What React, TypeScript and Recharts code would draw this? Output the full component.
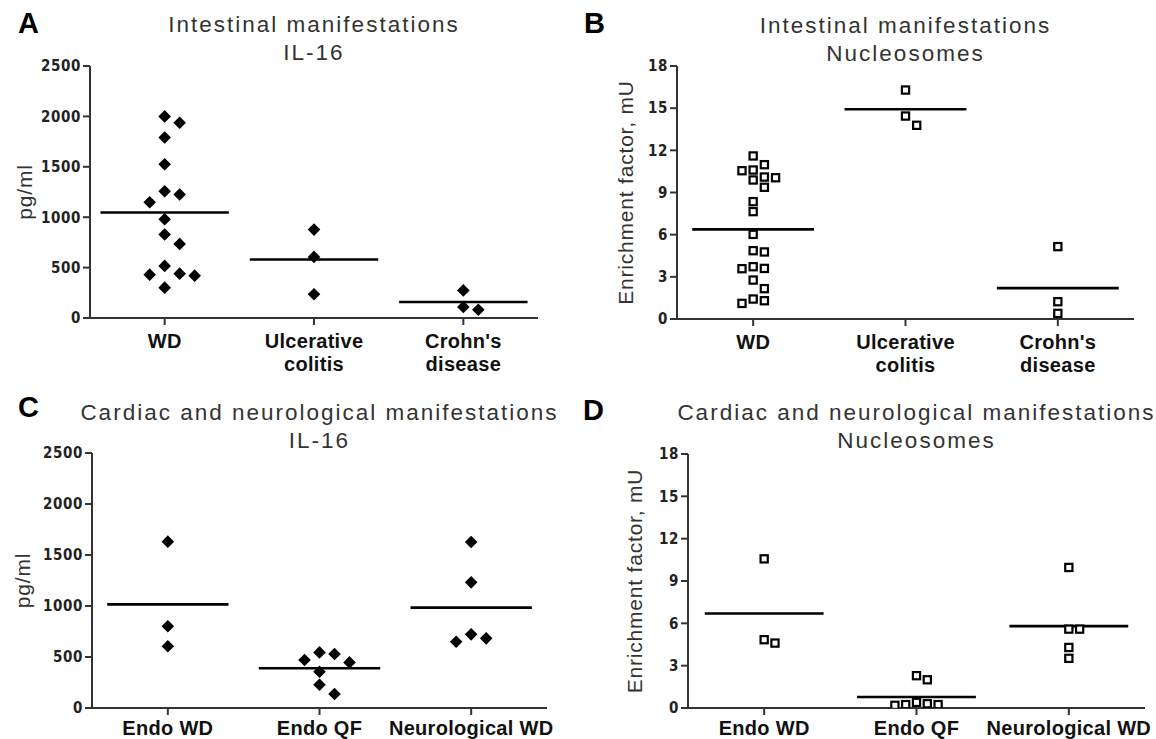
import React from 'react';
import { ScatterChart, Scatter, XAxis, YAxis } from 'recharts';

// ---------- Data ----------
const intestinalGroups = ['WD', 'Ulcerative\ncolitis', "Crohn's\ndisease"];
const cardiacGroups = ['Endo WD', 'Endo QF', 'Neurological WD'];

const il16Ticks = [0, 500, 1000, 1500, 2000, 2500];
const nucTicks = [0, 3, 6, 9, 12, 15, 18];

// Panel A: IL-16, intestinal (pg/ml)
const il16IntWD = [2000, 1937, 1791, 1526, 1258, 1225, 1149, 980, 828, 735, 517, 430, 420, 440, 301];
const il16IntUC = [877, 606, 235];
const il16IntCD = [274, 109, 82];
const il16IntMeans = [1046, 580, 159];

// Panel B: Nucleosomes, intestinal (mU)
const nucIntWD = [11.6, 10.98, 10.6, 10.55, 10.1, 10.05, 9.89, 9.37, 8.35, 7.64, 6.02, 4.86, 4.77, 3.72, 3.6, 3.58, 2.77, 2.16, 1.42, 1.3, 1.11];
const nucIntUC = [16.29, 14.44, 13.78];
const nucIntCD = [5.15, 1.23, 0.4];
const nucIntMeans = [6.38, 14.92, 2.2];

// Panel C: IL-16, cardiac & neurological (pg/ml)
const il16CarEndoWD = [1631, 801, 605];
const il16CarEndoQF = [545, 529, 471, 447, 356, 228, 137];
const il16CarNeuro = [1627, 1232, 722, 683, 650];
const il16CarMeans = [1016, 390, 984];

// Panel D: Nucleosomes, cardiac & neurological (mU)
const nucCarEndoWD = [10.57, 4.84, 4.6];
const nucCarEndoQF = [2.29, 2.0, 0.4, 0.3, 0.24, 0.24, 0.19];
const nucCarNeuro = [9.96, 5.59, 5.59, 4.29, 3.52];
const nucCarMeans = [6.7, 0.78, 5.8];

// ---------- Styling ----------
const AXIS = '#333333';
const TEXT = '#333333';
const SANS = "'Liberation Sans', Arial, sans-serif";
const NARROW = "'Liberation Sans Narrow', 'Arial Narrow', 'DejaVu Sans Condensed', sans-serif";
const Y_W = 60;
const X_H = 30;

// beeswarm offsets (pixels) derived from the values
function beeswarm(vals: number[], ppu: number, size: number, step: number): number[] {
  const order = vals.map((_, i) => i).sort((a, b) => vals[b] - vals[a]);
  const placed: { dx: number; py: number }[] = [];
  const out = new Array(vals.length).fill(0);
  for (const i of order) {
    const py = vals[i] * ppu;
    for (let k = 0; k < 30; k++) {
      const slot = k === 0 ? 0 : k % 2 === 1 ? (k + 1) / 2 : -k / 2;
      const dx = slot * step;
      const hit = placed.some((q) => Math.abs(q.dx - dx) < step * 0.9 && Math.abs(q.py - py) < size);
      if (!hit) {
        placed.push({ dx, py });
        out[i] = dx;
        break;
      }
    }
  }
  return out;
}

type Box = { left: number; top: number; width: number; height: number };
type Plot = { l: number; t: number; r: number; b: number };

type PanelProps = {
  box: Box;
  plot: Plot;
  groups: string[];
  values: number[][];
  means: number[];
  yMax: number;
  yTicks: number[];
  marker: 'diamond' | 'square';
  step: number;
  symbol: number;
  lineFrac: number;
  labelDy: number;
};

function Panel(p: PanelProps) {
  const plotW = p.plot.r - p.plot.l;
  const plotH = p.plot.b - p.plot.t;
  const band = plotW / p.groups.length;
  const ppu = plotH / p.yMax;
  const points = p.values.flatMap((vals, gi) => {
    const offs = beeswarm(vals, ppu, p.symbol, p.step);
    return vals.map((v, i) => ({ x: gi + 0.5, y: v, dx: offs[i] }));
  });
  const meanData = p.means.map((m, gi) => ({ x: gi + 0.5, y: m }));
  const margin = {
    top: p.plot.t - p.box.top,
    left: p.plot.l - p.box.left - Y_W,
    right: p.box.left + p.box.width - p.plot.r,
    bottom: p.box.top + p.box.height - p.plot.b - X_H,
  };
  const lineW = band * p.lineFrac;

  const markerShape = (props: any) => {
    const { cx, cy, payload } = props;
    if (cx == null || cy == null) return <g />;
    const x = cx + (payload.dx || 0);
    if (p.marker === 'diamond') {
      const r = 6.3;
      return <path d={`M${x},${cy - r}L${x + r},${cy}L${x},${cy + r}L${x - r},${cy}Z`} fill="#000" />;
    }
    return <rect x={x - 3.6} y={cy - 3.6} width={7.2} height={7.2} fill="#fff" stroke="#000" strokeWidth={2.2} />;
  };

  const meanShape = (props: any) => {
    const { cx, cy } = props;
    if (cx == null || cy == null) return <g />;
    return <line x1={cx - lineW / 2} x2={cx + lineW / 2} y1={cy} y2={cy} stroke="#000" strokeWidth={2.6} />;
  };

  const catTick = (props: any) => {
    const { x, y, payload } = props;
    const label = p.groups[Math.floor(payload.value)] || '';
    const lines = label.split('\n');
    return (
      <text x={x} y={y} textAnchor="middle" fill="#111" fontSize={20} fontWeight="bold" fontFamily={SANS} letterSpacing={0.3}>
        {lines.map((ln, i) => (
          <tspan key={i} x={x} dy={i === 0 ? p.labelDy : 23}>
            {ln}
          </tspan>
        ))}
      </text>
    );
  };

  return (
    <div style={{ position: 'absolute', left: p.box.left, top: p.box.top }}>
      <ScatterChart width={p.box.width} height={p.box.height} margin={margin}>
        <XAxis
          type="number"
          dataKey="x"
          domain={[0, p.groups.length]}
          ticks={p.groups.map((_, i) => i + 0.5)}
          interval={0}
          height={X_H}
          tickSize={7}
          axisLine={{ stroke: AXIS, strokeWidth: 2 }}
          tickLine={{ stroke: AXIS, strokeWidth: 2 }}
          tick={catTick}
          allowDataOverflow
        />
        <YAxis
          type="number"
          dataKey="y"
          domain={[0, p.yMax]}
          ticks={p.yTicks}
          interval={0}
          width={Y_W}
          tickSize={7}
          axisLine={{ stroke: AXIS, strokeWidth: 2 }}
          tickLine={{ stroke: AXIS, strokeWidth: 2 }}
          tick={{ fill: '#222', fontSize: 15, fontWeight: 700, fontFamily: NARROW, letterSpacing: 0.6 }}
          allowDataOverflow
        />
        <Scatter data={meanData} shape={meanShape} isAnimationActive={false} />
        <Scatter data={points} shape={markerShape} isAnimationActive={false} />
      </ScatterChart>
    </div>
  );
}

const plotA: Plot = { l: 90, t: 66, r: 538, b: 318 };
const plotB: Plot = { l: 677, t: 66, r: 1134, b: 319 };
const plotC: Plot = { l: 92, t: 453, r: 547, b: 708 };
const plotD: Plot = { l: 688, t: 454, r: 1145, b: 708 };

function Titles() {
  const items = [
    { letter: 'A', lx: 18, ly: 33, plot: plotA, t1: 'Intestinal manifestations', t2: 'IL-16', y1: 32, ylab: 'pg/ml', yx: 24 },
    { letter: 'B', lx: 584, ly: 33, plot: plotB, t1: 'Intestinal manifestations', t2: 'Nucleosomes', y1: 33, ylab: 'Enrichment factor, mU', yx: 625 },
    { letter: 'C', lx: 18, ly: 417, plot: plotC, t1: 'Cardiac and neurological manifestations', t2: 'IL-16', y1: 420, ylab: 'pg/ml', yx: 22 },
    { letter: 'D', lx: 583, ly: 420, plot: plotD, t1: 'Cardiac and neurological manifestations', t2: 'Nucleosomes', y1: 420, ylab: 'Enrichment factor, mU', yx: 634 },
  ];
  return (
    <svg width={1156} height={739} style={{ position: 'absolute', left: 0, top: 0, pointerEvents: 'none' }}>
      {items.map((it) => {
        const cx = (it.plot.l + it.plot.r) / 2;
        const cy = (it.plot.t + it.plot.b) / 2;
        return (
          <g key={it.letter}>
            <text x={it.lx} y={it.ly} fontSize={29} fontWeight="bold" fontFamily={SANS} fill="#000">
              {it.letter}
            </text>
            <text x={cx} y={it.y1} textAnchor="middle" fontSize={22.5} fontFamily={SANS} fill={TEXT} letterSpacing={2}>
              {it.t1}
            </text>
            <text x={cx} y={it.y1 + 28} textAnchor="middle" fontSize={22.5} fontFamily={SANS} fill={TEXT} letterSpacing={2}>
              {it.t2}
            </text>
            <text
              transform={`translate(${it.yx},${cy}) rotate(-90)`}
              textAnchor="middle"
              dominantBaseline="central"
              fontSize={21}
              fontFamily={SANS}
              fill={TEXT}
              letterSpacing={0.8}
            >
              {it.ylab}
            </text>
          </g>
        );
      })}
    </svg>
  );
}

export default function App() {
  return (
    <div style={{ position: 'absolute', left: 0, top: 0, width: 1156, height: 739, background: '#fff', overflow: 'hidden' }}>
      <Panel
        box={{ left: 0, top: 0, width: 578, height: 400 }}
        plot={plotA}
        groups={intestinalGroups}
        values={[il16IntWD, il16IntUC, il16IntCD]}
        means={il16IntMeans}
        yMax={2500}
        yTicks={il16Ticks}
        marker="diamond"
        step={15}
        symbol={12}
        lineFrac={0.86}
        labelDy={21}
      />
      <Panel
        box={{ left: 578, top: 0, width: 578, height: 400 }}
        plot={plotB}
        groups={intestinalGroups}
        values={[nucIntWD, nucIntUC, nucIntCD]}
        means={nucIntMeans}
        yMax={18}
        yTicks={nucTicks}
        marker="square"
        step={11.2}
        symbol={9.5}
        lineFrac={0.8}
        labelDy={21}
      />
      <Panel
        box={{ left: 0, top: 370, width: 578, height: 369 }}
        plot={plotC}
        groups={cardiacGroups}
        values={[il16CarEndoWD, il16CarEndoQF, il16CarNeuro]}
        means={il16CarMeans}
        yMax={2500}
        yTicks={il16Ticks}
        marker="diamond"
        step={15}
        symbol={11}
        lineFrac={0.8}
        labelDy={18}
      />
      <Panel
        box={{ left: 578, top: 370, width: 578, height: 369 }}
        plot={plotD}
        groups={cardiacGroups}
        values={[nucCarEndoWD, nucCarEndoQF, nucCarNeuro]}
        means={nucCarMeans}
        yMax={18}
        yTicks={nucTicks}
        marker="square"
        step={10.8}
        symbol={9.5}
        lineFrac={0.78}
        labelDy={18}
      />
      <Titles />
    </div>
  );
}
